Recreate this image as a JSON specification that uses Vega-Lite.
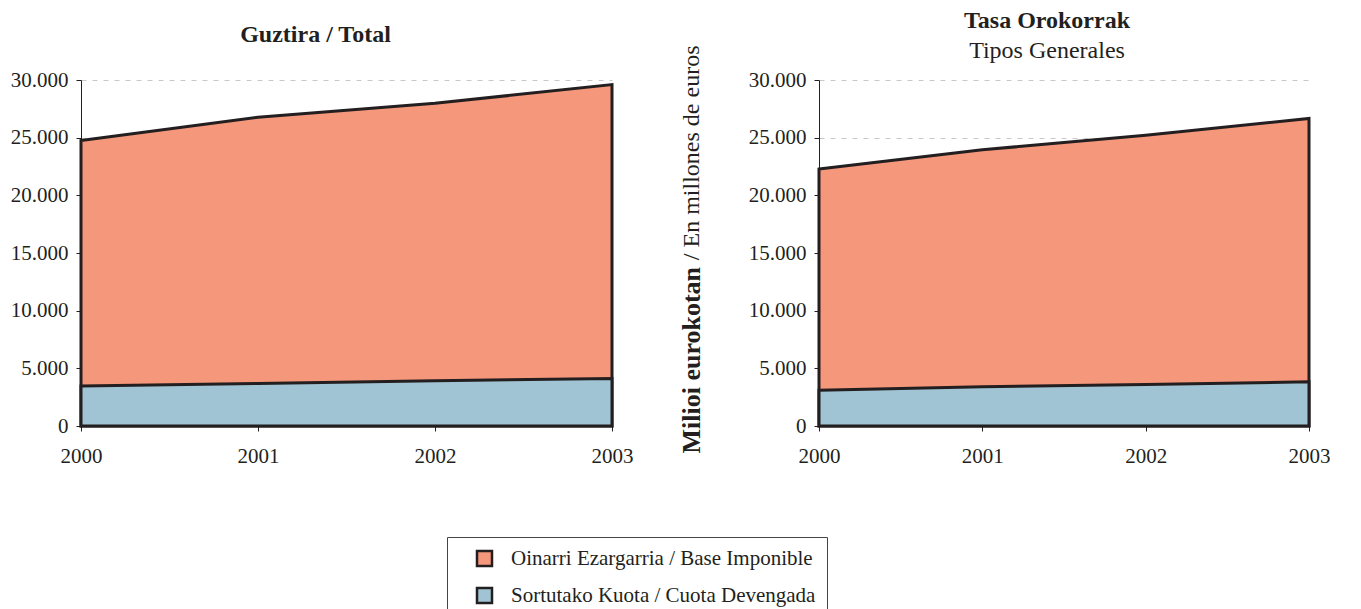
{
  "$schema": "https://vega.github.io/schema/vega-lite/v6.json",
  "background": "white",
  "padding": {"left": 10, "top": 9, "right": 0, "bottom": 0},
  "datasets": {
    "d": [
      {"panel": "Guztira", "year": 2000, "serie": "Oinarri Ezargarria / Base Imponible", "value": 24750},
      {"panel": "Guztira", "year": 2001, "serie": "Oinarri Ezargarria / Base Imponible", "value": 26770},
      {"panel": "Guztira", "year": 2002, "serie": "Oinarri Ezargarria / Base Imponible", "value": 27980},
      {"panel": "Guztira", "year": 2003, "serie": "Oinarri Ezargarria / Base Imponible", "value": 29600},
      {"panel": "Guztira", "year": 2000, "serie": "Sortutako Kuota / Cuota Devengada", "value": 3460},
      {"panel": "Guztira", "year": 2001, "serie": "Sortutako Kuota / Cuota Devengada", "value": 3690},
      {"panel": "Guztira", "year": 2002, "serie": "Sortutako Kuota / Cuota Devengada", "value": 3920},
      {"panel": "Guztira", "year": 2003, "serie": "Sortutako Kuota / Cuota Devengada", "value": 4120},
      {"panel": "Tasa", "year": 2000, "serie": "Oinarri Ezargarria / Base Imponible", "value": 22280},
      {"panel": "Tasa", "year": 2001, "serie": "Oinarri Ezargarria / Base Imponible", "value": 23950},
      {"panel": "Tasa", "year": 2002, "serie": "Oinarri Ezargarria / Base Imponible", "value": 25200},
      {"panel": "Tasa", "year": 2003, "serie": "Oinarri Ezargarria / Base Imponible", "value": 26660},
      {"panel": "Tasa", "year": 2000, "serie": "Sortutako Kuota / Cuota Devengada", "value": 3110},
      {"panel": "Tasa", "year": 2001, "serie": "Sortutako Kuota / Cuota Devengada", "value": 3400},
      {"panel": "Tasa", "year": 2002, "serie": "Sortutako Kuota / Cuota Devengada", "value": 3600},
      {"panel": "Tasa", "year": 2003, "serie": "Sortutako Kuota / Cuota Devengada", "value": 3830}
    ]
  },
  "bounds": "flush",
  "spacing": 207,
  "resolve": {"scale": {"color": "shared"}, "legend": {"color": "shared"}},
  "hconcat": [
    {
      "width": 531,
      "height": 346,
      "data": {"name": "d"},
      "transform": [{"filter": {"field": "panel", "equal": "Guztira"}}],
      "title": {"text": "Guztira / Total", "fontWeight": "bold", "dx": -31, "offset": 22.5, "frame": "group", "anchor": "middle"},
      "encoding": {
        "x": {
          "field": "year", "type": "ordinal",
          "scale": {"type": "point", "padding": 0},
          "axis": {"title": null, "labelAngle": 0, "tickSize": 5, "labelPadding": 14, "grid": false,
                   "labelFont": "Liberation Serif", "labelFontSize": 21, "labelColor": "#231F20"}
        },
        "color": {
          "field": "serie", "type": "nominal",
          "scale": {"domain": ["Oinarri Ezargarria / Base Imponible", "Sortutako Kuota / Cuota Devengada"], "range": ["#F5977A", "#A0C4D3"]},
          "title": null
        }
      },
      "layer": [
        {
          "transform": [{"filter": {"field": "serie", "equal": "Oinarri Ezargarria / Base Imponible"}}],
          "mark": {"type": "area", "stroke": "#231F20", "strokeWidth": 3, "opacity": 1},
          "encoding": {
            "y": {
              "field": "value", "type": "quantitative",
              "scale": {"domain": [0, 30000], "nice": false},
              "axis": {
                "title": null,
                "values": [0, 5000, 10000, 15000, 20000, 25000, 30000],
                "labelExpr": "replace(format(datum.value, ','), ',', '.')",
                "labelFont": "Liberation Serif", "labelFontSize": 21, "labelColor": "#231F20",
                "grid": true, "gridDash": [5, 6], "gridColor": "#C8C8C8",
                "tickSize": 5, "labelPadding": 8
              }
            }
          }
        },
        {
          "transform": [{"filter": {"field": "serie", "equal": "Sortutako Kuota / Cuota Devengada"}}],
          "mark": {"type": "area", "stroke": "#231F20", "strokeWidth": 3, "opacity": 1},
          "encoding": {
            "y": {
              "field": "value", "type": "quantitative",
              "scale": {"domain": [0, 30000], "nice": false},
              "axis": {
                "orient": "right",
                "title": "Milioi eurokotan",
                "labels": false, "ticks": false, "domain": false, "grid": false,
                "titleFont": "Liberation Serif",
                "titleAngle": 270, "titleFontWeight": "bold", "titleFontSize": 26,
                "titleAlign": "left", "titleBaseline": "middle",
                "titleX": 79, "titleY": 373
              }
            }
          }
        }
      ],
      "resolve": {"axis": {"y": "independent"}}
    },
    {
      "width": 490,
      "height": 346,
      "data": {"name": "d"},
      "transform": [{"filter": {"field": "panel", "equal": "Tasa"}}],
      "title": {"text": "Tasa Orokorrak", "subtitle": "Tipos Generales", "fontWeight": "bold", "dx": -17, "offset": -18, "frame": "group", "anchor": "middle"},
      "encoding": {
        "x": {
          "field": "year", "type": "ordinal",
          "scale": {"type": "point", "padding": 0},
          "axis": {"title": null, "labelAngle": 0, "tickSize": 5, "labelPadding": 14, "grid": false,
                   "labelFont": "Liberation Serif", "labelFontSize": 21, "labelColor": "#231F20"}
        },
        "color": {
          "field": "serie", "type": "nominal",
          "scale": {"domain": ["Oinarri Ezargarria / Base Imponible", "Sortutako Kuota / Cuota Devengada"], "range": ["#F5977A", "#A0C4D3"]},
          "title": null
        },
        "y": {
          "field": "value", "type": "quantitative",
          "scale": {"domain": [0, 30000], "nice": false},
          "axis": {
            "title": "/ En millones de euros",
            "values": [0, 5000, 10000, 15000, 20000, 25000, 30000],
            "labelExpr": "replace(format(datum.value, ','), ',', '.')",
            "labelFont": "Liberation Serif", "labelFontSize": 21, "labelColor": "#231F20",
            "grid": true, "gridDash": [5, 6], "gridColor": "#C8C8C8",
            "tickSize": 5, "labelPadding": 8,
            "titleFont": "Liberation Serif",
            "titleAngle": 270, "titleFontWeight": "normal", "titleFontSize": 24,
            "titleAlign": "right", "titleBaseline": "middle",
            "titleX": -128, "titleY": -35
          }
        }
      },
      "layer": [
        {
          "transform": [{"filter": {"field": "serie", "equal": "Oinarri Ezargarria / Base Imponible"}}],
          "mark": {"type": "area", "stroke": "#231F20", "strokeWidth": 3, "opacity": 1}
        },
        {
          "transform": [{"filter": {"field": "serie", "equal": "Sortutako Kuota / Cuota Devengada"}}],
          "mark": {"type": "area", "stroke": "#231F20", "strokeWidth": 3, "opacity": 1}
        }
      ]
    }
  ],
  "config": {
    "font": "Liberation Serif",
    "view": {"stroke": null},
    "style": {"guide-label": {"font": "Liberation Serif"}, "guide-title": {"font": "Liberation Serif"}},
    "axis": {
      "labelFont": "Liberation Serif", "labelFontSize": 21, "labelColor": "#231F20",
      "titleFont": "Liberation Serif", "titleColor": "#231F20",
      "domainColor": "#231F20", "tickColor": "#231F20", "domainWidth": 1, "tickWidth": 1
    },
    "title": {
      "font": "Liberation Serif", "fontSize": 24, "color": "#231F20",
      "subtitleFont": "Liberation Serif", "subtitleFontSize": 24, "subtitleColor": "#231F20",
      "subtitlePadding": 6, "baseline": "top"
    },
    "legend": {
      "orient": "none", "legendX": 366, "legendY": 457, "direction": "vertical",
      "labelFont": "Liberation Serif", "labelFontSize": 21, "labelColor": "#231F20", "labelLimit": 500,
      "symbolType": "square", "symbolSize": 225, "symbolStrokeWidth": 2.5, "symbolStrokeColor": "#231F20",
      "symbolOffset": 16, "labelOffset": 16, "rowPadding": 12,
      "padding": 11, "strokeColor": "#444444", "fillColor": "white"
    }
  }
}
